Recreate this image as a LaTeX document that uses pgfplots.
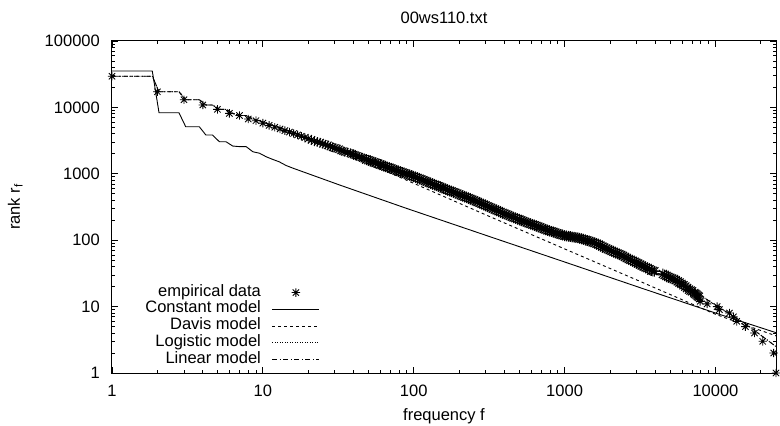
\documentclass[border=0pt]{standalone}
\usepackage{fontspec}
\setmainfont{Liberation Sans}
\usepackage{pgfplots}
\pgfplotsset{compat=1.18}
\pgfdeclareplotmark{gstar}{%
 \pgfpathmoveto{\pgfqpoint{-\pgfplotmarksize}{0pt}}\pgfpathlineto{\pgfqpoint{\pgfplotmarksize}{0pt}}%
 \pgfpathmoveto{\pgfqpoint{0pt}{-\pgfplotmarksize}}\pgfpathlineto{\pgfqpoint{0pt}{\pgfplotmarksize}}%
 \pgfpathmoveto{\pgfqpoint{-0.75\pgfplotmarksize}{-0.75\pgfplotmarksize}}\pgfpathlineto{\pgfqpoint{0.75\pgfplotmarksize}{0.75\pgfplotmarksize}}%
 \pgfpathmoveto{\pgfqpoint{-0.75\pgfplotmarksize}{0.75\pgfplotmarksize}}\pgfpathlineto{\pgfqpoint{0.75\pgfplotmarksize}{-0.75\pgfplotmarksize}}%
 \pgfusepathqstroke}
\pgfplotsset{
 lineleg/.style={legend image code/.code={\draw[##1] (0pt,0pt) -- (47pt,0pt);}},
 starleg/.style={legend image code/.code={\path (0pt,0pt) (47pt,0pt); \draw[##1] plot coordinates {(23.5pt,0pt)};}},
}

% empirical data, low frequencies (1..19) and the sparse tail
\pgfplotstableread{
f r
1 29500
2 17200
3 13060
4 10860
5 9350
6 8130
7 7550
8 6680
9 6310
10 5790
11 5360
12 5020
13 4730
14 4470
15 4250
16 4050
17 3850
18 3680
19 3520
7850 13
7920 12
8810 11
10260 10
10620 9
12380 8
13160 7
13840 6
15800 5
18130 4
20570 3
24320 2
25200 1
}\empiricalA

% empirical data, 20..47
\pgfplotstableread{
f r
20 3380
21 3240
22 3090
23 3020
24 2950
25 2820
26 2755
27 2690
28 2570
29 2510
30 2455
31 2400
32 2344
33 2239
34 2188
35 2138
36.5 2090
38 2042
39 1995
40 1950
41 1903
42 1857
43.5 1812
45 1768
46 1726
47 1684
}\empiricalB

% empirical data, dense part 48.5..7762
\pgfplotstableread{
f r
48.5 1643
50 1603
51.5 1565
53 1527
54.5 1490
56 1454
58 1419
60 1384
61.5 1351
63 1318
65 1288
67 1259
69 1230
71 1202
73 1175
75 1148
77 1122
79 1096
81.5 1071
84 1047
86.5 1023
89 1000
91.5 977
94 955
97 933
100 912
103 889
106 866
109 844
112 822
115.5 801
119 780
122.5 760
126 741
129.5 722
133 704
137 686
141 668
145.5 651
150 635
154 619
158 603
163 587
168 572
173 557
178 543
183 529
188 516
194 503
200 490
205.5 477
211 465
217.5 453
224 442
230.5 430
237 419
244 408
251 398
258.5 387
266 376
274 365
282 355
290.5 345
299 335
307.5 325
316 316
325.5 307
335 299
345 290
355 282
365.5 274
376 266
387 258
398 251
410 245
422 239
434.5 232
447 226
460 220
473 215
487 209
501 204
516 199
531 194
546 189
562 185
579 180
596 176
613 172
631 168
649 164
668 160
688 156
708 152
729 148
750 145
772 141
794 138
817 135
841 133
866 130
891 127
917 124
944 122
972 119.5
1000 117
1029 116
1059 115
1090 113.5
1122 112
1155 111
1189 110
1224 108.5
1259 107
1296 105
1334 103
1373 101
1413 99
1454 97
1496 95
1540 93
1585 91
1631 88.5
1679 86
1728 83
1778 80
1830 77.5
1884 75
1939 73
1995 71
2053 69
2113 67
2175 65
2239 63
2304 61.5
2371 60
2440 58
2512 56
2585 54
2661 52
2738 50.5
2818 49
2900 47.5
2985 46
3072 44.5
3162 43
3255 41.5
3350 40
3448 39
3548 38
3652 36.5
3758 35
3848 34.5
3940 34
4480 31
4605 30
4732 29
4870 28
5012 27
5158 26.5
5309 26
5460 25
5623 24
5790 23
5957 22
6130 21
6310 20
6490 19
6683 18
6840 17.5
7000 17
7244 16
7370 15.5
7500 15
7630 14.5
7762 14
}\empiricalC

\begin{document}
\fontsize{16.5}{19.8}\selectfont
\begin{tikzpicture}
\begin{axis}[
 scale only axis, width=664pt, height=332pt,
 xmode=log, ymode=log,
 xmin=1, xmax=25200, ymin=1, ymax=100000,
 axis line style={line width=1pt},
 every tick/.style={black, line width=0.8pt},
 major tick length=6.5pt, minor tick length=3.5pt,
 tick align=inside, xtick pos=both, ytick pos=both,
 xtick={1,10,100,1000,10000}, xticklabels={1,10,100,1000,10000},
 ytick={1,10,100,1000,10000,100000}, yticklabels={1,10,100,1000,10000,100000},
 minor xtick={2,3,4,5,6,7,8,9,20,30,40,50,60,70,80,90,200,300,400,500,600,700,800,900,2000,3000,4000,5000,6000,7000,8000,9000,20000},
 minor ytick={2,3,4,5,6,7,8,9,20,30,40,50,60,70,80,90,200,300,400,500,600,700,800,900,2000,3000,4000,5000,6000,7000,8000,9000,20000,30000,40000,50000,60000,70000,80000,90000},
 /pgf/number format/assume math mode=true,
 title={00ws110.txt},
 every axis title/.style={at={(axis description cs:0.5,1)}, anchor=base, yshift=17.7pt, inner sep=0pt},
 xlabel={frequency f},
 every axis x label/.style={at={(axis description cs:0.5,0)}, anchor=base, yshift=-47.7pt, inner sep=0pt},
 ylabel={rank r\textsubscript{f}},
 every axis y label/.style={at={(axis description cs:-0.1386,0.5)}, rotate=90, anchor=base, inner sep=0pt},
 xticklabel style={yshift=-6.3pt},
 yticklabel style={xshift=-6.5pt},
 clip=false,
 legend plot pos=right, legend cell align=right,
 legend style={draw=none, fill=none, at={(axis description cs:0.3133,0.268)}, anchor=north east,
   inner sep=0pt, row sep=0pt, column sep=11pt,
   nodes={inner sep=0pt, text height=12pt, text depth=4.7pt}},
]
\addplot[only marks, mark=gstar, mark size=4.2pt, line width=0.85pt, black, starleg]
  table[x=f, y=r] {\empiricalA};
\addlegendentry{empirical data}
\addplot[only marks, mark=gstar, mark size=4.8pt, line width=0.95pt, black, forget plot]
  table[x=f, y=r] {\empiricalB};
\addplot[only marks, mark=gstar, mark size=5.4pt, line width=1.05pt, black, forget plot]
  table[x=f, y=r] {\empiricalC};
\addplot[black, line width=0.9pt, lineleg]
  coordinates {(1,35300) (1.85,35300) (2.05,8300) (2.78,8300) (3.08,5120) (3.79,5120) (4.19,3840) (4.64,3840) (5.15,3040) (5.70,3040) (6.31,2620) (7.0,2565) (7.75,2565) (8.58,2150) (9.5,2040) (10.5,1810) (11.6,1650) (12.8,1520) (14.3,1330) (15.9,1211) (32.4,676) (89.4,302) (316,114) (1000,47) (3162,19.3) (10000,8.0) (25200,4.05)};
\addlegendentry{Constant model}
\addplot[black, line width=0.9pt, dash pattern=on 3pt off 3pt, lineleg]
  coordinates {(1,29500) (1.85,29500) (2.05,17200) (2.78,17200) (3.08,13060) (3.79,13060) (4.19,10860) (4.64,10860) (5.15,9350) (5.70,9350) (6.31,8130) (7.0,7550) (7.75,7550) (8.58,6680) (9.5,6310) (10.5,5750) (11.6,5360) (12.8,5020) (14.3,4470) (15.9,4250) (20,3390) (28.2,2512) (39.8,1799) (63.1,1135) (100,719) (316,229) (1000,74) (3162,24) (10000,7.67) (15850,5.25) (25200,3.63)};
\addlegendentry{Davis model}
\addplot[black, line width=0.9pt, dash pattern=on 1pt off 1.5pt, lineleg]
  coordinates {(1,29500) (1.85,29500) (2.05,17200) (2.78,17200) (3.08,13060) (3.79,13060) (4.19,10860) (4.64,10860) (5.15,9350) (5.70,9350) (6.31,8130) (7.0,7550) (7.75,7550) (8.58,6680) (9.5,6310) (10.5,5750) (11.6,5360) (12.8,5020) (14.3,4470) (15.9,4250) (20,3380) (25.1,2820) (31.6,2344) (39.8,1950) (50.1,1603) (63.1,1318) (79.4,1096) (100,912) (158.5,603) (251,398) (398,251) (631,168) (1000,117) (1585,91) (2512,56) (3981,33) (6310,21) (10000,10.5) (15850,5.5) (25200,2.5)};
\addlegendentry{Logistic model}
\addplot[black, line width=0.9pt, dash pattern=on 5pt off 2.5pt on 1pt off 2.5pt, lineleg]
  coordinates {(1,29500) (1.85,29500) (2.05,17200) (2.78,17200) (3.08,13060) (3.79,13060) (4.19,10860) (4.64,10860) (5.15,9350) (5.70,9350) (6.31,8130) (7.0,7550) (7.75,7550) (8.58,6680) (9.5,6310) (10.5,5750) (11.6,5360) (12.8,5020) (14.3,4470) (15.9,4250) (20,3380) (25.1,2820) (31.6,2344) (39.8,1950) (50.1,1603) (63.1,1318) (79.4,1096) (100,912) (158.5,603) (251,398) (398,251) (631,168) (1000,117) (1585,91) (2512,56) (3981,33) (6310,21) (10000,10.5) (15850,5.5) (25200,2.5)};
\addlegendentry{Linear model}
\coordinate (LL) at (rel axis cs:0,0);
\end{axis}
\pgfresetboundingbox
\path[use as bounding box] (LL) ++(-112pt,-53pt) rectangle ++(780pt,426pt);
\end{tikzpicture}
\end{document}
